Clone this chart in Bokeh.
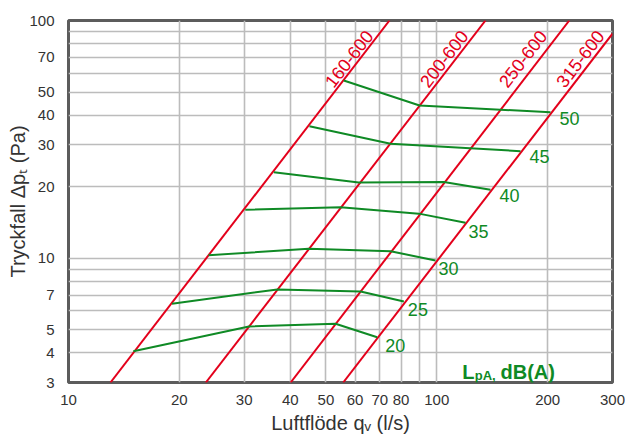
import math
from bokeh.plotting import figure
from bokeh.models import Range1d, FixedTicker, BasicTickFormatter, Label, ColumnDataSource
from bokeh.core.properties import value
from bokeh.embed import file_html
from bokeh.resources import INLINE

# ---------------- data ----------------
x_tick_values = [10, 20, 30, 40, 50, 60, 70, 80, 100, 200, 300]
x_grid_values = [10, 20, 30, 40, 50, 60, 70, 80, 90, 100, 200, 300]
y_tick_values = [3, 4, 5, 7, 10, 20, 30, 40, 50, 70, 100]
y_grid_values = [3, 4, 5, 6, 7, 8, 9, 10, 20, 30, 40, 50, 60, 70, 80, 90, 100]

# red duct-size lines (end points)
red_names = ["160-600", "200-600", "250-600", "315-600"]
red_q_lo = [13.0, 23.6, 40.1, 55.7]
red_dp_lo = [3, 3, 3, 3]
red_q_hi = [74.4, 135.6, 229.0, 300.0]
red_dp_hi = [100, 100, 100, 88]

# green sound level curves, LpA dB(A)
levels = ["20", "25", "30", "35", "40", "45", "50"]
curve_q = [
    [15.0, 30.9, 53.1, 68.9],
    [19.1, 36.9, 62.1, 81.4],
    [24.0, 44.9, 74.9, 99.2],
    [30.2, 54.8, 89.4, 119.7],
    [36.1, 61.4, 104.5, 139.9],
    [45.1, 74.9, 168.8],
    [55.9, 89.8, 203.6],
]
curve_dp = [
    [4.06, 5.16, 5.30, 4.65],
    [6.43, 7.39, 7.24, 6.58],
    [10.3, 10.95, 10.7, 9.78],
    [16.0, 16.4, 15.4, 14.1],
    [23.0, 20.8, 20.9, 19.4],
    [35.9, 30.3, 28.2],
    [55.9, 43.9, 41.1],
]

x_title = "Luftflöde qᵥ (l/s)"
y_title = "Tryckfall Δpₜ (Pa)"

# ---------------- styles ----------------
RED = "#e3001b"
GREEN = "#0f8a25"
FONT = "Liberation Sans"
TICK_COLOR = "#333333"

p = figure(width=625, height=437, x_axis_type="log", y_axis_type="log",
           x_range=Range1d(10, 300), y_range=Range1d(3, 100),
           output_backend="svg", toolbar_location=None,
           min_border_left=68, min_border_right=13,
           min_border_top=20, min_border_bottom=55)
p.background_fill_color = "white"
p.border_fill_color = "white"
p.outline_line_color = "#5c5c5c"
p.outline_line_width = 3

for ax in (p.xaxis[0], p.yaxis[0]):
    ax.axis_line_color = None
    ax.major_tick_line_color = None
    ax.minor_tick_line_color = None
    ax.formatter = BasicTickFormatter()
    ax.major_label_text_font = FONT
    ax.major_label_text_font_size = "15px"
    ax.major_label_text_color = TICK_COLOR
    ax.axis_label_text_font = FONT
    ax.axis_label_text_font_size = "20px"
    ax.axis_label_text_font_style = "normal"
    ax.axis_label_text_color = TICK_COLOR
p.xaxis[0].ticker = FixedTicker(ticks=x_tick_values)
p.yaxis[0].ticker = FixedTicker(ticks=y_tick_values)
p.xaxis[0].major_label_standoff = 6
p.yaxis[0].major_label_standoff = 8
p.xaxis[0].axis_label = x_title
p.yaxis[0].axis_label = y_title
p.xaxis[0].axis_label_standoff = 4
p.yaxis[0].axis_label_standoff = -3

p.xgrid[0].ticker = FixedTicker(ticks=x_grid_values)
p.ygrid[0].ticker = FixedTicker(ticks=y_grid_values)
for g in (p.xgrid[0], p.ygrid[0]):
    g.grid_line_color = "#bcbcbc"
    g.grid_line_width = 1.6

# red lines
for ql, dl, qh, dh in zip(red_q_lo, red_dp_lo, red_q_hi, red_dp_hi):
    p.line([ql, qh], [dl, dh], line_color=RED, line_width=2)

# red labels: placed at a pressure level along each line, shifted left
label_dp = 69.0
lab_q = []
for ql, dl, qh, dh in zip(red_q_lo, red_dp_lo, red_q_hi, red_dp_hi):
    t = (math.log10(label_dp) - math.log10(dl)) / (math.log10(dh) - math.log10(dl))
    lab_q.append(10 ** (math.log10(ql) + t * (math.log10(qh) - math.log10(ql))))
red_src = ColumnDataSource(dict(x=lab_q, y=[label_dp] * len(lab_q), text=red_names,
                                xo=[-11, -12, -17, -13]))
angle = math.atan(2 * 237.7 / 368.3)
p.text(x="x", y="y", text="text", source=red_src, x_offset="xo", angle=angle,
       text_align="center", text_baseline="middle", text_color=RED,
       text_font=value(FONT), text_font_size="18px")

# green curves
for qs, ds in zip(curve_q, curve_dp):
    p.line(qs, ds, line_color=GREEN, line_width=2)

g_src = ColumnDataSource(dict(x=[q[-1] for q in curve_q], y=[d[-1] for d in curve_dp],
                              text=levels,
                              xo=[8, 4, 3, 3, 9, 9, 9], yo=[8, 8, 8, 9, 6, 5, 6]))
p.text(x="x", y="y", text="text", source=g_src, x_offset="xo", y_offset="yo",
       text_align="left", text_baseline="middle", text_color=GREEN,
       text_font=value(FONT), text_font_size="18px")

# LpA, dB(A)
def lab(text, x, y, size, color, bold=False):
    p.add_layout(Label(x=x, y=y, x_units="canvas", y_units="canvas", text=text,
                       text_font=FONT, text_font_size=size, text_color=color,
                       text_font_style="bold" if bold else "normal",
                       text_align="left", text_baseline="alphabetic"))

lab("L", 461.7, 371, "20px", GREEN, bold=True)
lab("pA,", 474.2, 375, "13px", GREEN, bold=True)
lab("dB(A)", 500, 371, "20px", GREEN, bold=True)

open("out.html", "w").write(file_html(p, INLINE))
